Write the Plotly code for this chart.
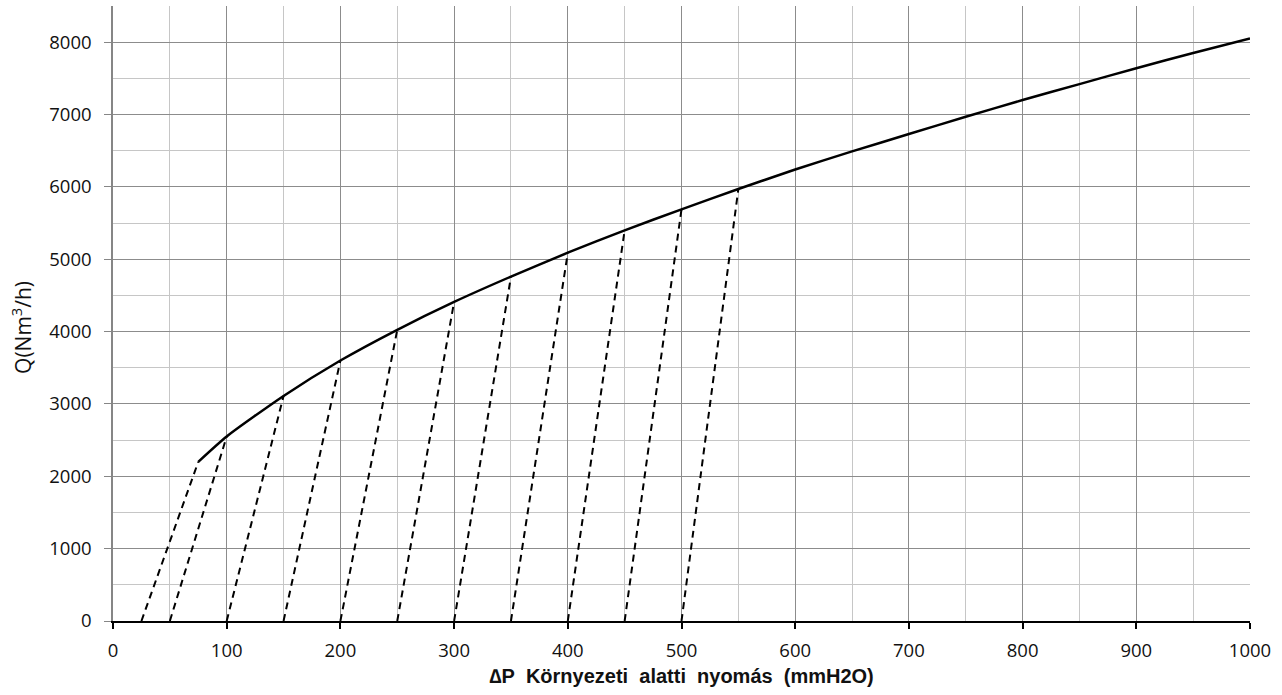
import plotly.graph_objects as go

# Main curve: Q vs pressure difference
curve_dp = [75, 100, 150, 200, 250, 300, 350, 400, 450, 500, 550, 600, 650, 700, 750, 800, 850, 900, 950, 1000]
curve_q = [2200, 2550, 3110, 3600, 4025, 4410, 4760, 5090, 5400, 5690, 5970, 6240, 6490, 6730, 6970, 7200, 7420, 7640, 7850, 8050]

# Dashed lines: start on the x-axis, end on the curve
dash_start_dp = [25, 50, 100, 150, 200, 250, 300, 350, 400, 450, 500]
dash_end_dp = [75, 100, 150, 200, 250, 300, 350, 400, 450, 500, 550]
dash_end_q = [2200, 2550, 3110, 3600, 4025, 4410, 4760, 5090, 5400, 5690, 5970]

x_ticks = [0, 100, 200, 300, 400, 500, 600, 700, 800, 900, 1000]
y_ticks = [0, 1000, 2000, 3000, 4000, 5000, 6000, 7000, 8000]

fig = go.Figure()

for x0, x1, q1 in zip(dash_start_dp, dash_end_dp, dash_end_q):
    fig.add_trace(go.Scatter(
        x=[x0, x1], y=[0, q1], mode="lines",
        line=dict(color="black", width=2, dash="7px,5px"),
        showlegend=False, hoverinfo="skip"))

fig.add_trace(go.Scatter(
    x=curve_dp, y=curve_q, mode="lines",
    line=dict(color="black", width=2.5, shape="spline", smoothing=0.6),
    showlegend=False))

tick_font = dict(family="Open Sans", size=18.5, color="#111111")
gap = "\u00a0\u00a0"
x_title = "<b>\u2206P" + gap + "Környezeti" + gap + "alatti" + gap + "nyomás" + gap + "(mmH2O)</b>"

fig.update_layout(
    width=1282, height=695,
    margin=dict(l=113, r=32, t=6, b=74),
    plot_bgcolor="white", paper_bgcolor="white",
    xaxis=dict(
        range=[0, 1000], tickvals=x_ticks, ticktext=[str(v) for v in x_ticks],
        showgrid=True, gridcolor="#8c8c8c", gridwidth=1.3,
        minor=dict(dtick=50, showgrid=True, gridcolor="#c6c6c6", gridwidth=1.3, ticks=""),
        showline=True, linecolor="black", linewidth=2.2,
        ticks="outside", ticklen=6, tickwidth=1.5, tickcolor="black",
        ticklabelstandoff=6,
        zeroline=False, tickfont=tick_font,
        title=dict(text=x_title,
                   font=dict(family="Liberation Sans", size=20, color="#111111"), standoff=8),
    ),
    yaxis=dict(
        range=[0, 8500], tickvals=y_ticks, ticktext=[str(v) for v in y_ticks],
        showgrid=True, gridcolor="#8c8c8c", gridwidth=1.3,
        minor=dict(dtick=500, showgrid=True, gridcolor="#c6c6c6", gridwidth=1.3, ticks=""),
        showline=True, linecolor="#868686", linewidth=1.5,
        ticks="outside", ticklen=7, tickwidth=1.3, tickcolor="#868686",
        ticklabelstandoff=9,
        zeroline=False, tickfont=tick_font,
    ),
    annotations=[dict(
        text="Q(Nm<sup>3</sup>/h)", xref="paper", yref="paper",
        x=-0.081, y=0.478, xanchor="center", yanchor="middle",
        textangle=-90, showarrow=False,
        font=dict(family="Open Sans", size=21, color="#111111"))],
)

fig.write_html("out.html")
